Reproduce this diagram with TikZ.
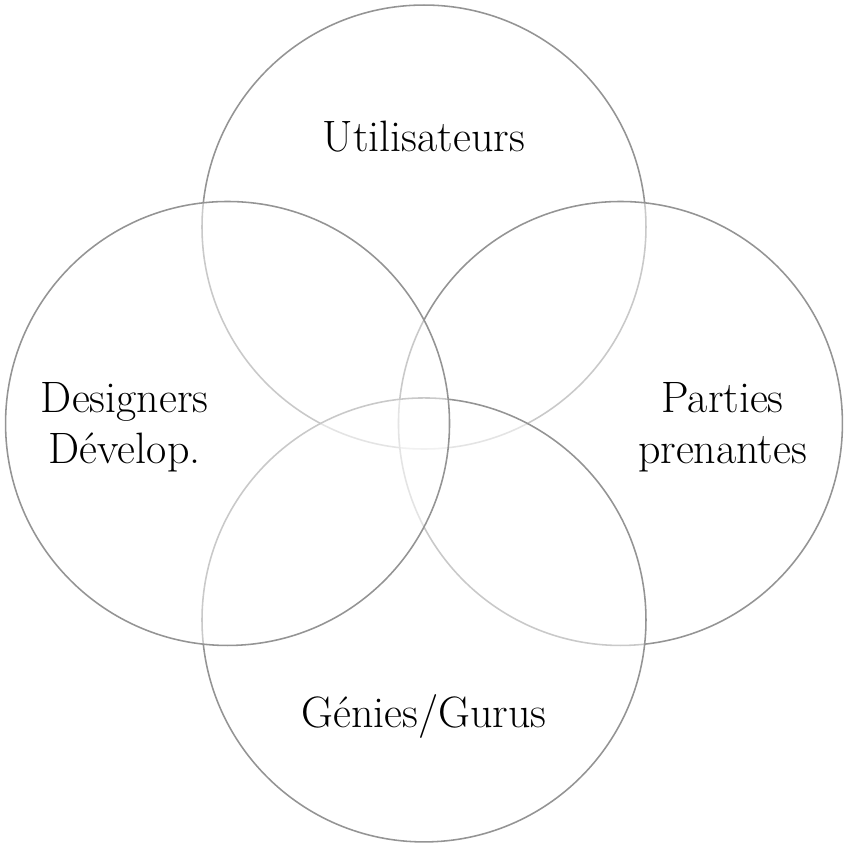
\documentclass[tikz,border=0pt]{standalone}
\usepackage{tikz}
\usetikzlibrary{positioning}

\begin{document}
\begin{tikzpicture}[
    set/.style={circle, draw=black!42, semithick, fill=white, fill opacity=0.5, text opacity=1, minimum size=6cm, inner sep=0pt},
    lbl/.style={align=center, font=\fontsize{16.9}{19.8}\selectfont}
]
\useasboundingbox (-5.73,-5.75) rectangle (5.757,5.723);

\node[set] (users) at (0,2.655) {};
\node[set] (stake) at (2.655,0) {};
\node[set] (gurus) at (0,-2.655) {};
\node[set] (devs) at (-2.655,0) {};

\node[lbl] (usersl) at ([yshift=1.22cm]users.center) {Utilisateurs};
\node[lbl] (stakel) at ([xshift=1.38cm,yshift=-0.05cm]stake.center) {Parties\\prenantes};
\node[lbl] (gurusl) at ([yshift=-1.3cm]gurus.center) {Génies/Gurus};
\node[lbl] (devsl) at ([xshift=-1.39cm,yshift=-0.05cm]devs.center) {Designers\\Dévelop.};

\end{tikzpicture}
\end{document}
